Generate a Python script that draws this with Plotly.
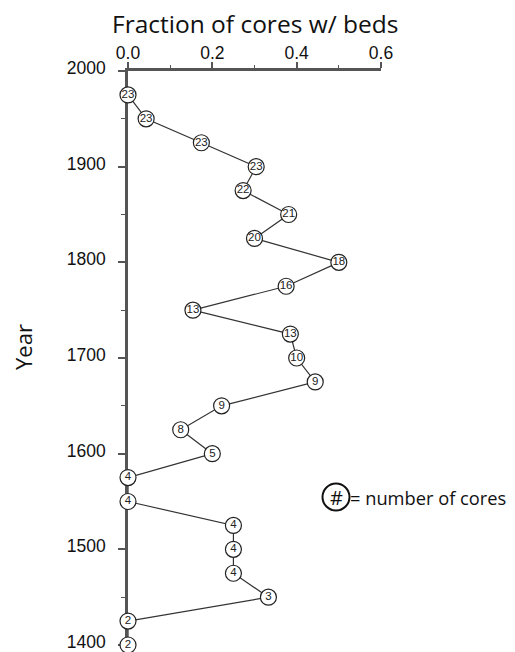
import plotly.graph_objects as go

years = [1975, 1950, 1925, 1900, 1875, 1850, 1825, 1800, 1775, 1750, 1725, 1700,
         1675, 1650, 1625, 1600, 1575, 1550, 1525, 1500, 1475, 1450, 1425, 1400]
fraction = [0.0, 0.043, 0.174, 0.304, 0.273, 0.381, 0.30, 0.50, 0.375, 0.154, 0.385, 0.40,
            0.444, 0.222, 0.125, 0.20, 0.0, 0.0, 0.25, 0.25, 0.25, 0.333, 0.0, 0.0]
cores = [23, 23, 23, 23, 22, 21, 20, 18, 16, 13, 13, 10, 9, 9, 8, 5, 4, 4, 4, 4, 4, 3, 2, 2]

x_tick_vals = [0.0, 0.2, 0.4, 0.6]
x_tick_text = ["0.0", "0.2", "0.4", "0.6"]
y_tick_vals = [1400, 1500, 1600, 1700, 1800, 1900, 2000]

AX = "#555555"
tick_font = dict(family="Liberation Sans, Arial, sans-serif", size=17.5, color="#111")
label_font = "Open Sans, sans-serif"

# the page body has an 8px default margin: compensate
OFF = 8
L, T = 128 - OFF, 71 - OFF
PW, PH = 253, 574

fig = go.Figure()
fig.add_trace(go.Scatter(
    x=fraction, y=years, mode="lines+markers+text",
    text=[str(c) for c in cores], textposition="middle center",
    textfont=dict(family="Liberation Sans, Arial, sans-serif", size=11.5, color="#222"),
    line=dict(color="#333333", width=1.2),
    marker=dict(size=16, color="white", line=dict(color="#222222", width=1.2)),
    cliponaxis=False, showlegend=False, hoverinfo="skip",
))

lx = (336 - 128) / PW
ly = (645 - 497) / PH

fig.update_layout(
    width=515 - OFF, height=652 - OFF,
    margin=dict(l=L, r=515 - OFF - L - PW, t=T, b=652 - OFF - T - PH, autoexpand=False),
    paper_bgcolor="white", plot_bgcolor="white",
    xaxis=dict(
        range=[0, 0.6], side="top", showgrid=False, zeroline=False, automargin=False,
        showline=True, linecolor=AX, linewidth=2.5, layer="below traces",
        tickmode="array", tickvals=x_tick_vals, ticktext=x_tick_text,
        ticks="outside", ticklen=6, tickwidth=1.5, tickcolor=AX,
        tickfont=tick_font, ticklabelstandoff=-4, ticklabeloverflow="allow",
        minor=dict(dtick=0.1, ticks="outside", ticklen=3, tickwidth=1.2, tickcolor=AX),
    ),
    yaxis=dict(
        range=[1400, 2000], showgrid=False, zeroline=False, automargin=False,
        showline=True, linecolor=AX, linewidth=2.5, layer="below traces",
        tickmode="array", tickvals=y_tick_vals,
        ticks="outside", ticklen=7, tickwidth=1.5, tickcolor=AX,
        tickfont=tick_font, ticklabelstandoff=9, ticklabelshift=-3,
        ticklabeloverflow="allow",
        minor=dict(dtick=50, ticks="outside", ticklen=4, tickwidth=1.2, tickcolor=AX),
    ),
    annotations=[
        dict(text="Fraction of cores w/ beds", xref="paper", yref="paper",
             x=0.5, y=1, yanchor="middle", yshift=48, showarrow=False,
             font=dict(family=label_font, size=24.5, color="#111")),
        dict(text="Year", xref="paper", yref="paper", x=0, y=(645 - 347) / PH,
             xanchor="center", yanchor="middle", xshift=-105, textangle=-90,
             showarrow=False, font=dict(family=label_font, size=22, color="#111")),
        dict(text="#", xref="paper", yref="paper", x=lx, y=ly,
             xanchor="center", yanchor="middle", showarrow=False,
             font=dict(family=label_font, size=20, color="#111")),
        dict(text="= number of cores", xref="paper", yref="paper",
             x=(348 - 128) / PW, y=ly,
             xanchor="left", yanchor="middle", showarrow=False,
             font=dict(family=label_font, size=18.3, color="#111")),
    ],
    shapes=[
        dict(type="circle", xref="paper", yref="paper",
             xsizemode="pixel", ysizemode="pixel",
             xanchor=lx, yanchor=ly,
             x0=-13.5, x1=13.5, y0=-13.5, y1=13.5,
             line=dict(color="#111", width=2), fillcolor="rgba(0,0,0,0)"),
    ],
)

fig.write_html("out.html")
